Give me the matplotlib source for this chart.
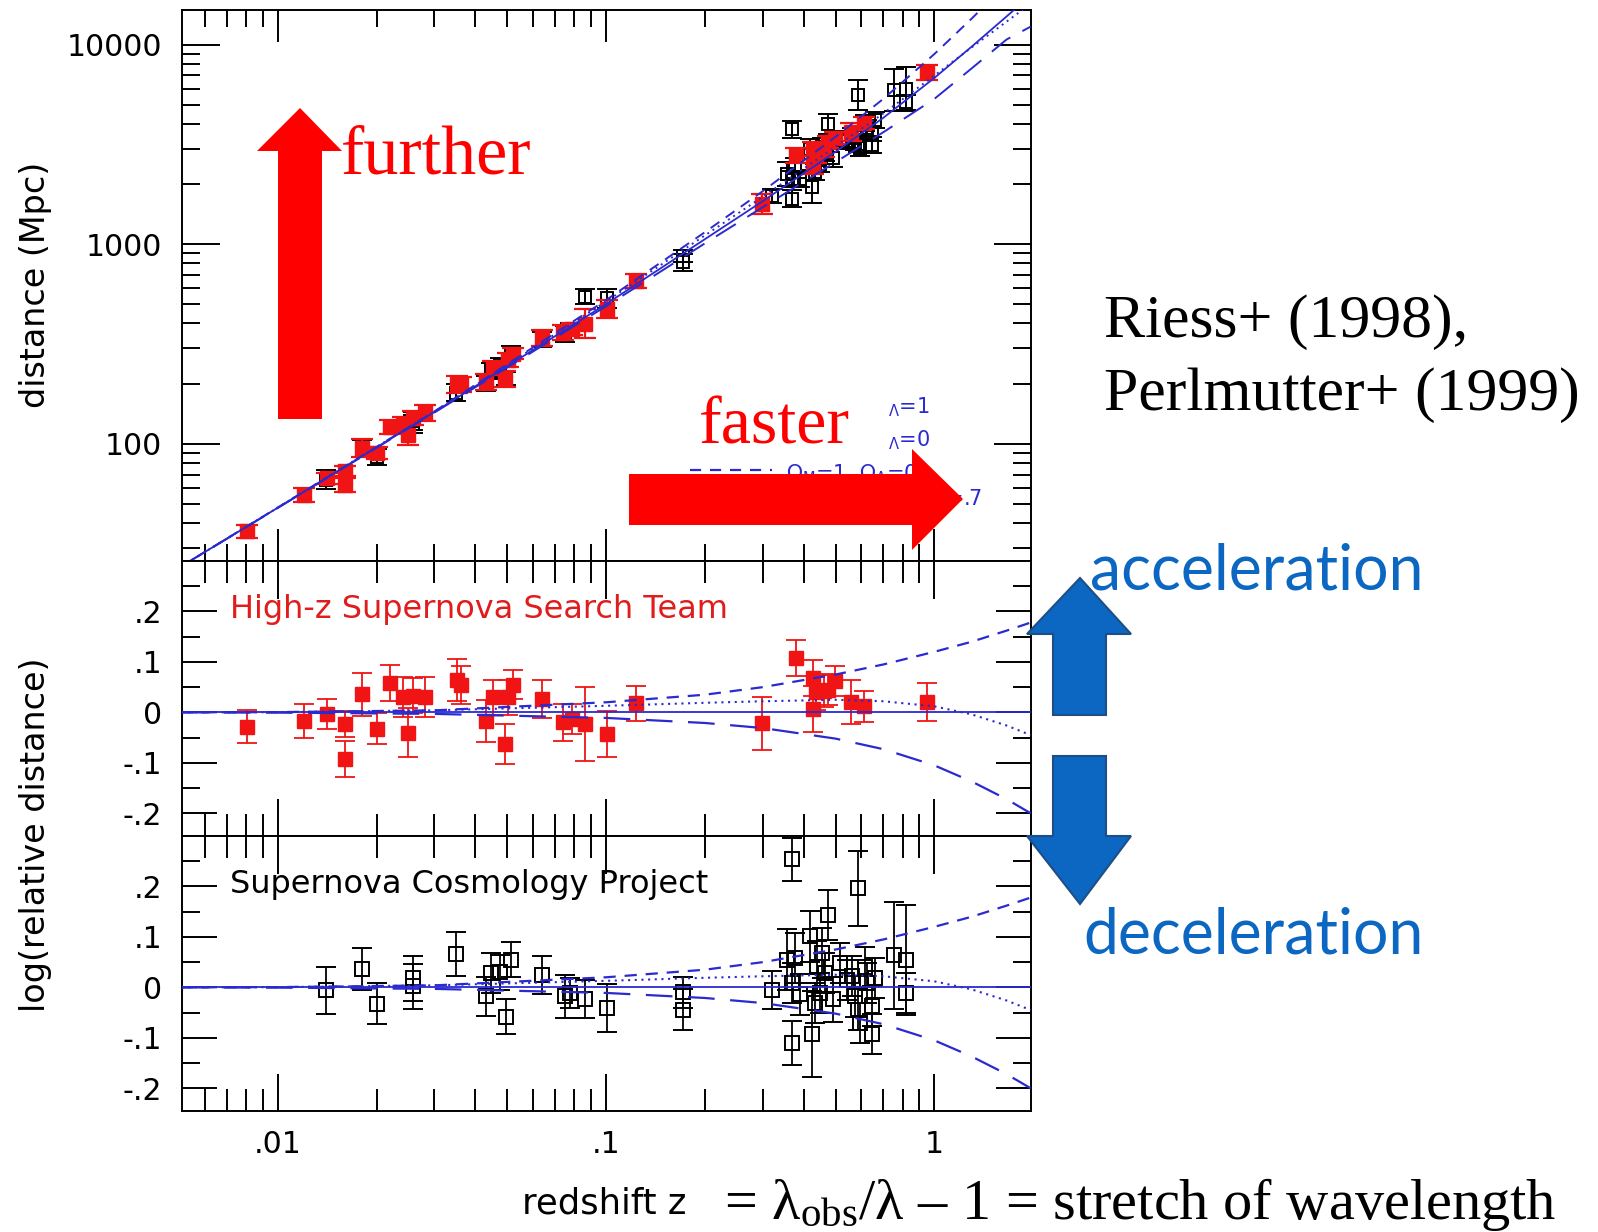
import numpy as np
import matplotlib
matplotlib.use("Agg")
import matplotlib.pyplot as plt
from matplotlib.patches import Polygon, Rectangle
from matplotlib.lines import Line2D
from matplotlib.ticker import FixedLocator, FixedFormatter, NullFormatter

# ------------------------------------------------------------------ data
# High-z Supernova Search Team (red filled squares)
hzt_z = [0.00805, 0.0120, 0.0141, 0.0160, 0.0160, 0.0180, 0.0200, 0.0220, 0.0240, 0.0250,
         0.0259, 0.0281, 0.0351, 0.0361, 0.0431, 0.0451, 0.0492, 0.0502, 0.0519, 0.0637,
         0.0741, 0.0786, 0.0863, 0.1005, 0.1234, 0.298, 0.378, 0.4255, 0.428, 0.435,
         0.46, 0.476, 0.499, 0.556, 0.612, 0.952]
hzt_res = [-0.028, -0.017, -0.003, -0.023, -0.093, 0.036, -0.032, 0.058, 0.030, -0.040,
           0.033, 0.030, 0.064, 0.054, -0.017, 0.030, -0.063, 0.030, 0.055, 0.026,
           -0.020, -0.013, -0.023, -0.043, 0.018, -0.022, 0.108, 0.068, 0.007, 0.040,
           0.043, 0.045, 0.062, 0.020, 0.012, 0.021]
hzt_err = [0.032, 0.034, 0.029, 0.025, 0.036, 0.043, 0.030, 0.035, 0.040, 0.048,
           0.035, 0.040, 0.042, 0.038, 0.041, 0.035, 0.040, 0.035, 0.028, 0.038,
           0.036, 0.030, 0.073, 0.046, 0.035, 0.052, 0.036, 0.035, 0.045, 0.035,
           0.033, 0.030, 0.030, 0.044, 0.031, 0.038]
hzt_dist = [36.3, 55.4, 67.0, 72.7, 62.0, 95.0, 89.3, 121.5, 124, 110.5,
            135, 143, 197, 198, 203, 238, 210, 262, 282, 338,
            360, 374, 398, 472, 655, 1590, 2780, 2980, 2500, 2750,
            2950, 3250, 3400, 3650, 4050, 7250]

# Supernova Cosmology Project (black open squares)
scp_z = [0.0140, 0.0181, 0.0201, 0.0259, 0.0259, 0.0349, 0.0430, 0.0446, 0.0475, 0.0496,
         0.0513, 0.0637, 0.0749, 0.0777, 0.0863, 0.1005, 0.1716, 0.1716, 0.3197, 0.3550,
         0.3697, 0.3697, 0.3697, 0.3765, 0.3899, 0.4181, 0.4231, 0.4330, 0.4381, 0.4484,
         0.4537, 0.4645, 0.4755, 0.4924, 0.5161, 0.5408, 0.5601, 0.5733, 0.5869, 0.5869,
         0.5938, 0.6150, 0.6223, 0.6443, 0.6443, 0.6596, 0.7540, 0.8182, 0.8182]
scp_res = [-0.006, 0.037, -0.032, 0.018, 0.002, 0.066, -0.018, 0.028, 0.030, -0.058,
           0.055, 0.025, -0.018, -0.011, -0.023, -0.041, -0.044, -0.010, -0.005, 0.055,
           0.254, -0.110, 0.009, 0.058, -0.014, 0.101, -0.093, -0.031, 0.041, -0.011,
           0.068, 0.028, 0.143, -0.024, 0.048, 0.015, 0.022, -0.018, 0.196, -0.044,
           -0.070, 0.041, 0.009, -0.037, -0.093, 0.018, 0.064, 0.055, -0.011]
scp_err = [0.047, 0.042, 0.040, 0.045, 0.045, 0.043, 0.038, 0.040, 0.035, 0.035,
           0.035, 0.038, 0.042, 0.030, 0.037, 0.047, 0.041, 0.030, 0.037, 0.060,
           0.043, 0.044, 0.040, 0.050, 0.040, 0.050, 0.085, 0.040, 0.050, 0.040,
           0.050, 0.040, 0.050, 0.045, 0.040, 0.040, 0.040, 0.040, 0.075, 0.040,
           0.040, 0.040, 0.040, 0.040, 0.040, 0.040, 0.106, 0.109, 0.040]
scp_dist = [66.0, 94.2, 86.0, 129.4, 124.8, 180, 200, 231.6, 248, 212,
            284, 331, 354, 374, 546, 535, 810, 876, 1741, 2246,
            3760, 1690, 2114, 2400, 2127, 2998, 1943, 2302, 2755, 2510,
            3049, 2858, 4000, 2707, 3362, 3290, 3485, 3265, 5600, 3162,
            3017, 4061, 3824, 3583, 3150, 4181, 5900, 6000, 5124]

# model curves
model_z = [0.00509, 0.01, 0.03, 0.1, 0.2, 0.3, 0.5, 0.7, 1.0, 1.3, 1.66, 1.966]
dist_solid = [24.3, 47.7, 144, 500, 1058, 1640, 2900, 4300, 6800, 9770, 13830, 17680]
dist_hi = [24.3, 47.8, 145, 524, 1147, 1840, 3447, 5350, 8960, 13500, 20100, 26700]
dist_dot = [24.3, 47.8, 145, 515, 1105, 1725, 3075, 4520, 6990, 9680, 13030, 16000]
dist_lo = [24.3, 47.6, 143, 488, 1008, 1530, 2573, 3640, 5340, 7600, 10600, 12300]
res_hi = [0, 0.0005, 0.004, 0.020, 0.035, 0.050, 0.075, 0.095, 0.120, 0.140, 0.162, 0.178]
res_dot = [0, 0.0005, 0.004, 0.013, 0.019, 0.022, 0.025, 0.022, 0.012, -0.004, -0.026, -0.045]
res_lo = [0, -0.0005, -0.003, -0.011, -0.021, -0.031, -0.052, -0.073, -0.105, -0.137, -0.172, -0.200]

x_major = [0.01, 0.1, 1]
x_major_labels = ['.01', '.1', '1']
x_minor = [0.006, 0.007, 0.008, 0.009, 0.02, 0.03, 0.04, 0.05, 0.06, 0.07, 0.08, 0.09,
           0.2, 0.3, 0.4, 0.5, 0.6, 0.7, 0.8, 0.9]
d_major = [100, 1000, 10000]
d_major_labels = ['100', '1000', '10000']
d_minor = [30, 40, 50, 60, 70, 80, 90, 200, 300, 400, 500, 600, 700, 800, 900,
           2000, 3000, 4000, 5000, 6000, 7000, 8000, 9000]
r_major = [-0.2, -0.1, 0, 0.1, 0.2]
r_major_labels = ['-.2', '-.1', '0', '.1', '.2']
r_minor = [-0.15, -0.05, 0.05, 0.15, 0.25]

# ------------------------------------------------------------------ style
plt.rcParams['font.family'] = ['DejaVu Sans']
plt.rcParams['mathtext.fontset'] = 'custom'
plt.rcParams['mathtext.rm'] = 'Liberation Serif'
plt.rcParams['mathtext.it'] = 'Liberation Serif:italic'
plt.rcParams['mathtext.sf'] = 'DejaVu Sans'

RED = '#f01414'
BLUE_LINE = '#2a2ad0'
ACC_BLUE = '#0b67c2'

W, H = 1598, 1232
fig = plt.figure(figsize=(W / 100, H / 100), dpi=100)
fig.patch.set_facecolor('white')


def fx(x):
    return x / W


def fy(y):
    return 1 - y / H


XL, XR = 181.5, 1030.7


def add_panel(top_px, bot_px):
    return fig.add_axes([fx(XL), fy(bot_px), (XR - XL) / W, (bot_px - top_px) / H])


ax1 = add_panel(10, 561)
ax2 = add_panel(561, 836)
ax3 = add_panel(836, 1111)

for ax in (ax1, ax2, ax3):
    ax.set_xscale('log')
    ax.set_xlim(0.00509, 1.966)
    ax.xaxis.set_major_locator(FixedLocator(x_major))
    ax.xaxis.set_minor_locator(FixedLocator(x_minor))
    ax.xaxis.set_minor_formatter(NullFormatter())
    ax.tick_params(which='both', direction='in', top=True, right=True,
                   width=1.4, colors='black', labelsize=21.5, pad=14)
    for s in ax.spines.values():
        s.set_linewidth(1.4)

ax1.set_yscale('log')
ax1.set_ylim(25.8, 14900)
ax1.yaxis.set_major_locator(FixedLocator(d_major))
ax1.yaxis.set_major_formatter(FixedFormatter(d_major_labels))
ax1.yaxis.set_minor_locator(FixedLocator(d_minor))
ax1.yaxis.set_minor_formatter(NullFormatter())
ax1.tick_params(which='major', axis='y', length=27)
ax1.tick_params(which='minor', axis='y', length=13)
ax1.tick_params(which='major', axis='x', length=23)
ax1.tick_params(which='minor', axis='x', length=12)
ax1.tick_params(labelbottom=False)

for ax in (ax2, ax3):
    ax.set_ylim(-0.245, 0.30)
    ax.yaxis.set_major_locator(FixedLocator(r_major))
    ax.yaxis.set_major_formatter(FixedFormatter(r_major_labels))
    ax.yaxis.set_minor_locator(FixedLocator(r_minor))
    ax.yaxis.set_minor_formatter(NullFormatter())
    ax.tick_params(which='major', axis='y', length=25)
    ax.tick_params(which='minor', axis='y', length=13)
    ax.tick_params(which='major', axis='x', length=27)
    ax.tick_params(which='minor', axis='x', length=16)
ax2.tick_params(labelbottom=False)
ax3.xaxis.set_major_formatter(FixedFormatter(x_major_labels))

# ------------------------------------------------------------------ model lines
ax1.plot(model_z, dist_solid, color=BLUE_LINE, lw=1.3, zorder=4)
ax1.plot(model_z, dist_hi, color=BLUE_LINE, lw=1.4, ls=(0, (5.5, 4)), zorder=4)
ax1.plot(model_z, dist_dot, color=BLUE_LINE, lw=1.4, ls=(0, (1, 2.2)), zorder=4)
ax1.plot(model_z, dist_lo, color=BLUE_LINE, lw=1.4, ls=(0, (12, 7)), zorder=4)
for ax in (ax2, ax3):
    ax.axhline(0, color=BLUE_LINE, lw=1.3, zorder=4)
    ax.plot(model_z, res_hi, color=BLUE_LINE, lw=1.6, ls=(0, (5.5, 4)), zorder=4)
    ax.plot(model_z, res_dot, color=BLUE_LINE, lw=1.5, ls=(0, (1, 2.2)), zorder=4)
    ax.plot(model_z, res_lo, color=BLUE_LINE, lw=1.6, ls=(0, (12, 7)), zorder=4)


# ------------------------------------------------------------------ data points
def log_err(vals, errs):
    v = np.asarray(vals, float)
    e = np.asarray(errs, float)
    return [v - v / 10 ** e, v * 10 ** e - v]


ax1.errorbar(scp_z, scp_dist, yerr=log_err(scp_dist, scp_err), fmt='s', ms=9,
             mfc='none', mec='black', mew=1.4, ecolor='black', elinewidth=1.4,
             capsize=7, capthick=1.4, zorder=2)
ax1.errorbar(hzt_z, hzt_dist, yerr=log_err(hzt_dist, hzt_err), fmt='s', ms=10.5,
             mfc=RED, mec=RED, ecolor=RED, elinewidth=1.6,
             capsize=8, capthick=1.6, zorder=3)

ax2.errorbar(hzt_z, hzt_res, yerr=hzt_err, fmt='s', ms=9.5, mfc=RED, mec=RED,
             ecolor=RED, elinewidth=1.3, capsize=7.2, capthick=1.3, zorder=3)
ax3.errorbar(scp_z, scp_res, yerr=scp_err, fmt='s', ms=9.5, mfc='none', mec='black',
             mew=1.4, ecolor='black', elinewidth=1.3, capsize=7.2, capthick=1.3, zorder=3)

ax2.text(0.057, 0.825, 'High-z Supernova Search Team', transform=ax2.transAxes,
         color='#e01c1c', fontsize=23, va='center', ha='left')
ax3.text(0.057, 0.822, 'Supernova Cosmology Project', transform=ax3.transAxes,
         color='black', fontsize=23, va='center', ha='left')

# axis labels
fig.text(fx(36), fy(285), 'distance (Mpc)', rotation=90, fontsize=24,
         ha='center', va='center')
fig.text(fx(36), fy(835), 'log(relative distance)', rotation=90, fontsize=24,
         ha='center', va='center')
fig.text(fx(522), fy(1214), 'redshift z', fontsize=25.5, ha='left', va='baseline')
fig.text(fx(724), fy(1219), r'= λ$_{\mathrm{obs}}$/λ – 1 = stretch of wavelength',
         fontsize=42, family='Liberation Serif', ha='left', va='baseline')

# ------------------------------------------------------------------ partially hidden legend
leg_font = 15
fig.text(fx(872), fy(407), r'$\mathsf{\Omega_\Lambda}$=1', color=BLUE_LINE,
         fontsize=leg_font, ha='left', va='center', zorder=5)
fig.text(fx(872), fy(440), r'$\mathsf{\Omega_\Lambda}$=0', color=BLUE_LINE,
         fontsize=leg_font, ha='left', va='center', zorder=5)
fig.add_artist(Line2D([fx(690), fx(772)], [fy(470), fy(470)], color=BLUE_LINE,
                      lw=1.6, ls=(0, (5, 4)), zorder=5))
fig.text(fx(786), fy(474), r'$\mathsf{\Omega_M}$=1, $\mathsf{\Omega_\Lambda}$=0',
         color=BLUE_LINE, fontsize=leg_font, ha='left', va='center', zorder=5)
fig.text(fx(982), fy(499), r'$\mathsf{\Omega_M}$=.3, $\mathsf{\Omega_\Lambda}$=.7',
         color=BLUE_LINE, fontsize=leg_font, ha='right', va='center', zorder=5)
fig.add_artist(Rectangle((fx(680), fy(460)), fx(889) - fx(680), fy(368) - fy(460),
                         transform=fig.transFigure, fc='white', ec='none', zorder=6))


# ------------------------------------------------------------------ arrows & annotations
def poly(pts, fc, ec='none', lw=0, z=7):
    p = Polygon([(fx(x), fy(y)) for x, y in pts], closed=True, transform=fig.transFigure,
                fc=fc, ec=ec, lw=lw, zorder=z)
    fig.add_artist(p)


# red "further" arrow (up)
poly([(300, 108), (342, 151), (322, 151), (322, 419), (278, 419), (278, 151), (257, 151)], '#ff0000')
# red "faster" arrow (right)
poly([(629, 474), (912, 474), (912, 449), (963, 499), (912, 550), (912, 525), (629, 525)], '#ff0000')
# blue acceleration arrow (up)
poly([(1080, 578), (1131, 634), (1106, 634), (1106, 715), (1053, 715), (1053, 634), (1027, 634)],
     ACC_BLUE, ec='#1d4f86', lw=1.5)
# blue deceleration arrow (down)
poly([(1053, 756), (1106, 756), (1106, 836), (1131, 836), (1080, 904), (1027, 836), (1053, 836)],
     ACC_BLUE, ec='#1d4f86', lw=1.5)

fig.text(fx(341), fy(174), 'further', color='#ff0000', fontsize=50.5,
         family='Liberation Serif', ha='left', va='baseline', zorder=8)
fig.text(fx(699), fy(444), 'faster', color='#ff0000', fontsize=49,
         family='Liberation Serif', ha='left', va='baseline', zorder=8)
fig.text(fx(1104), fy(337), 'Riess+ (1998),', color='black', fontsize=44.5,
         family='Liberation Serif', ha='left', va='baseline')
fig.text(fx(1104), fy(410), 'Perlmutter+ (1999)', color='black', fontsize=44.5,
         family='Liberation Serif', ha='left', va='baseline')
fig.text(fx(1090), fy(589), 'acceleration', color=ACC_BLUE, fontsize=45,
         family='Lato', ha='left', va='baseline')
fig.text(fx(1083), fy(954), 'deceleration', color=ACC_BLUE, fontsize=45,
         family='Lato', ha='left', va='baseline')

fig.savefig('out.png', dpi=100, facecolor='white')
